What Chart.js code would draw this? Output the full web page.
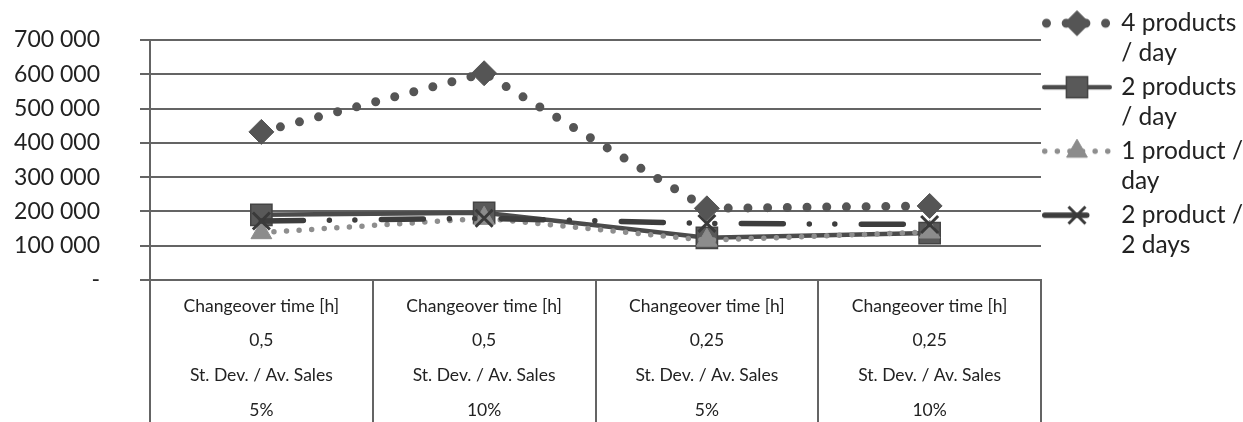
<!DOCTYPE html>
<html>
<head>
<meta charset="utf-8">
<script src="https://cdn.jsdelivr.net/npm/chart.js@4.4.1/dist/chart.umd.min.js"></script>
<style>
  html, body { margin: 0; padding: 0; background: #ffffff; }
  #wrap { width: 1243px; height: 422px; position: relative; }
</style>
</head>
<body>
<div id="wrap"><canvas id="chart" width="1243" height="422"></canvas></div>
<script>
// Scenario categories (each one a small four-line table cell under the axis)
const categories = [
  ['Changeover time [h]', '0,5', 'St. Dev. / Av. Sales', '5%'],
  ['Changeover time [h]', '0,5', 'St. Dev. / Av. Sales', '10%'],
  ['Changeover time [h]', '0,25', 'St. Dev. / Av. Sales', '5%'],
  ['Changeover time [h]', '0,25', 'St. Dev. / Av. Sales', '10%']
];

// Series names, wrapped over two legend lines
const seriesNames = [
  ['4 products', '/ day'],
  ['2 products', '/ day'],
  ['1 product /', 'day'],
  ['2 product /', '2 days']
];

// Series values
const fourProductsPerDay    = [432000, 603000, 209000, 216000];
const twoProductsPerDay     = [190000, 196000, 123000, 137000];
const oneProductPerDay      = [138000, 180000, 116000, 140000];
const twoProductsPerTwoDays = [172000, 180000, 165000, 162000];

// Value axis
const yMin = 0;
const yMax = 700000;
const yStep = 100000;

const FONT = 'Lato, "Open Sans", sans-serif';
const TEXT = '#222222';
const RULE = '#646464';

function formatValue(v) {
  if (v === 0) return '-';
  return String(Math.round(v)).replace(/\B(?=(\d{3})+(?!\d))/g, ' ');
}

const datasets = [
  {
    label: seriesNames[0].join(' '),
    data: fourProductsPerDay,
    borderColor: '#555555',
    borderWidth: 9,
    borderDash: [0, 19.7],
    borderCapStyle: 'round',
    pointStyle: 'rectRot',
    pointRadius: 12.5,
    pointBackgroundColor: '#555555',
    pointBorderColor: '#555555',
    pointBorderWidth: 1,
    order: 4
  },
  {
    label: seriesNames[1].join(' '),
    data: twoProductsPerDay,
    borderColor: '#4b4b4b',
    borderWidth: 4.5,
    borderDash: [],
    borderCapStyle: 'round',
    pointStyle: 'rect',
    pointRadius: 15,
    pointBackgroundColor: '#595959',
    pointBorderColor: '#444444',
    pointBorderWidth: 1.5,
    order: 3
  },
  {
    label: seriesNames[2].join(' '),
    data: oneProductPerDay,
    borderColor: '#8e8e8e',
    borderWidth: 5.5,
    borderDash: [0, 12.6],
    borderCapStyle: 'round',
    pointStyle: 'triangle',
    pointRadius: 12,
    pointBackgroundColor: '#8c8c8c',
    pointBorderColor: '#8c8c8c',
    pointBorderWidth: 1,
    order: 2
  },
  {
    label: seriesNames[3].join(' '),
    data: twoProductsPerTwoDays,
    borderColor: '#3d3d3d',
    borderWidth: 5.5,
    borderDash: [42, 26, 0, 25.5, 0, 26.5],
    borderCapStyle: 'round',
    pointStyle: 'crossRot',
    pointRadius: 12,
    pointBackgroundColor: '#3a3a3a',
    pointBorderColor: '#3a3a3a',
    pointBorderWidth: 3,
    order: 1
  }
];

// Straight segments between the scenario points
datasets.forEach(ds => {
  ds.fill = false;
  ds.tension = 0;
  ds.borderJoinStyle = 'round';
  ds.pointHoverRadius = ds.pointRadius;
});

// Legend key: a short stretch of the series line with its marker in the middle
function makeLegendKey(ds) {
  const w = 70, h = 30;
  const c = document.createElement('canvas');
  c.width = w; c.height = h;
  const ctx = c.getContext('2d');
  const cy = h / 2;
  ctx.strokeStyle = ds.borderColor;
  ctx.lineWidth = ds.borderWidth;
  ctx.lineCap = ds.borderCapStyle;
  ctx.setLineDash(ds.borderDash);
  const inset = ds.borderWidth / 2;
  ctx.beginPath();
  ctx.moveTo(inset, cy);
  ctx.lineTo(w - inset, cy);
  ctx.stroke();
  ctx.setLineDash([]);
  ctx.lineCap = 'butt';
  ctx.fillStyle = ds.pointBackgroundColor;
  ctx.strokeStyle = ds.pointBorderColor;
  ctx.lineWidth = ds.pointBorderWidth;
  Chart.helpers.drawPoint(ctx, {
    pointStyle: ds.pointStyle,
    radius: ds.pointRadius,
    borderWidth: ds.pointBorderWidth,
    rotation: 0
  }, w / 2, cy);
  return c;
}

const legendKeys = datasets.map(makeLegendKey);

new Chart(document.getElementById('chart'), {
  type: 'line',
  data: { labels: categories, datasets },
  options: {
    responsive: false,
    animation: false,
    devicePixelRatio: 1,
    layout: { padding: { top: 7, right: 0, bottom: 0, left: 0 } },
    plugins: {
      tooltip: { enabled: false },
      title: {
        display: true,
        text: '',
        fullSize: false,
        padding: 0,
        font: { size: 10, lineHeight: '33px' }
      },
      legend: {
        position: 'right',
        align: 'start',
        maxWidth: 202,
        labels: {
          usePointStyle: true,
          pointStyleWidth: 64,
          padding: 4,
          color: TEXT,
          font: { family: FONT, size: 24.5, lineHeight: '30px' },
          generateLabels: chart => chart.data.datasets.map((ds, i) => ({
            text: seriesNames[i],
            pointStyle: legendKeys[i],
            datasetIndex: i,
            hidden: false,
            lineWidth: 0,
            fillStyle: 'rgba(0,0,0,0)',
            strokeStyle: 'rgba(0,0,0,0)',
            fontColor: TEXT
          }))
        }
      }
    },
    scales: {
      x: {
        type: 'category',
        offset: true,
        grid: {
          offset: true,
          drawOnChartArea: false,
          drawTicks: true,
          tickLength: 142,
          color: RULE,
          lineWidth: 2
        },
        border: { display: true, color: RULE, width: 2 },
        ticks: {
          autoSkip: false,
          maxRotation: 0,
          minRotation: 0,
          padding: -133.35,
          color: TEXT,
          font: { family: FONT, size: 17.5, lineHeight: '34.7px' }
        },
        afterFit: scale => { scale.height = 142; }
      },
      y: {
        min: yMin,
        max: yMax,
        ticks: {
          stepSize: yStep,
          padding: 40,
          color: TEXT,
          font: { family: FONT, size: 23 },
          callback: v => formatValue(v)
        },
        grid: {
          color: RULE,
          lineWidth: 2,
          drawTicks: true,
          tickLength: 10
        },
        border: { display: true, color: RULE, width: 2 },
        afterFit: scale => {
          scale.width = 150;
          scale.paddingTop = 0;
        }
      }
    }
  }
});
</script>
</body>
</html>
